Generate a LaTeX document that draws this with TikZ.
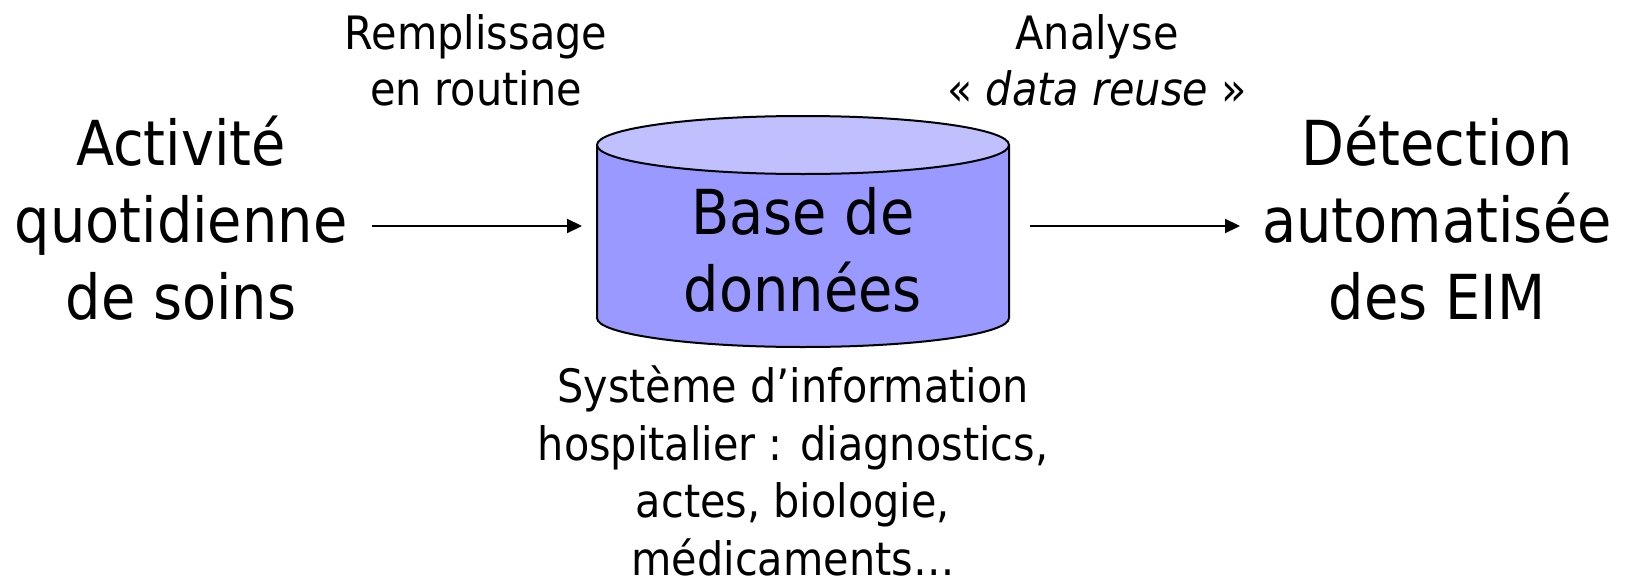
\documentclass[tikz,border=0pt]{standalone}
\usepackage{fontspec}
\setmainfont{DejaVu Sans}[FakeStretch=0.9]
\usetikzlibrary{arrows.meta}
\definecolor{dbtop}{RGB}{192,192,255}
\definecolor{dbbody}{RGB}{153,153,255}
\begin{document}
\begin{tikzpicture}[x=1pt,y=-1pt,
  big/.style={align=center,anchor=base,inner sep=0pt,font=\fontsize{62}{77}\selectfont},
  small/.style={align=center,anchor=base,inner sep=0pt,font=\fontsize{46}{56}\selectfont},
  arr/.style={line width=2.2pt,-{Triangle[length=15pt,width=14pt]}},
  dbline/.style={line width=2pt}]
\useasboundingbox (0,0) rectangle (1625,581);
% cylinder
\fill[dbbody] (597,145) -- (597,318) arc[start angle=180,end angle=360,x radius=206,y radius=-29] -- (1009,145) -- cycle;
\draw[dbline] (597,145) -- (597,318) arc[start angle=180,end angle=360,x radius=206,y radius=-29] -- (1009,145);
\draw[dbline,fill=dbtop] (803,145) ellipse[x radius=206,y radius=29];
\node[big] (db) at (803,311) {Base de\\données};
\node[big] (src) at (181,319) {Activité\\quotidienne\\de soins};
\node[big] (dst) at (1437,319) {Détection\\automatisée\\des EIM};
\node[small] (fill) at (476,105) {Remplissage\\en routine};
\node[small] (ana) at (1097,105) {Analyse\\« \textit{data reuse} »};
\node[small,font=\fontsize{46}{57.5}\selectfont] (sih) at (793,575) {Système d’information\\hospitalier : diagnostics,\\actes, biologie,\\médicaments…};
\coordinate (a1) at (372,226);
\coordinate (a2) at (582,226);
\coordinate (b1) at (1030,226);
\coordinate (b2) at (1240,226);
\draw[arr] (a1) -- (a2);
\draw[arr] (b1) -- (b2);
\end{tikzpicture}
\end{document}
